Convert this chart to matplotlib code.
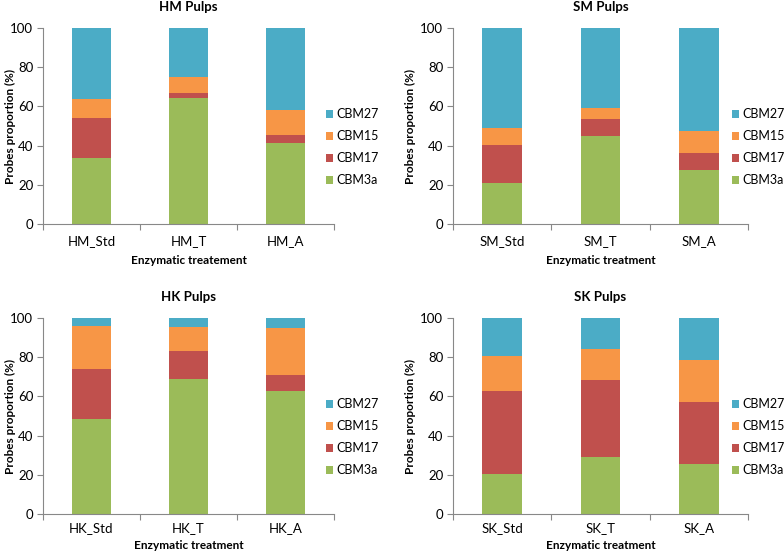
import matplotlib
matplotlib.use("Agg")
import matplotlib.pyplot as plt
import numpy as np

plt.rcParams['font.family'] = ['Lato', 'DejaVu Sans']

series = ["CBM3a", "CBM17", "CBM15", "CBM27"]
colors = ["#9BBB59", "#C0504D", "#F79646", "#4BACC6"]

hm_cats = ["HM_Std", "HM_T", "HM_A"]
hm_cbm3a = [33.8, 64.5, 41.5]
hm_cbm17 = [20.1, 2.3, 3.9]
hm_cbm15 = [9.9, 8.2, 12.9]
hm_cbm27 = [36.2, 25.0, 41.7]

sm_cats = ["SM_Std", "SM_T", "SM_A"]
sm_cbm3a = [21.1, 44.7, 27.7]
sm_cbm17 = [19.2, 8.9, 8.4]
sm_cbm15 = [8.8, 5.6, 11.2]
sm_cbm27 = [50.9, 40.8, 52.7]

hk_cats = ["HK_Std", "HK_T", "HK_A"]
hk_cbm3a = [48.6, 68.9, 62.6]
hk_cbm17 = [25.2, 14.1, 8.1]
hk_cbm15 = [21.9, 12.4, 24.0]
hk_cbm27 = [4.3, 4.6, 5.3]

sk_cats = ["SK_Std", "SK_T", "SK_A"]
sk_cbm3a = [20.6, 29.3, 25.3]
sk_cbm17 = [42.0, 39.1, 32.0]
sk_cbm15 = [18.0, 15.8, 21.3]
sk_cbm27 = [19.4, 15.8, 21.4]

panels = [
    ("HM Pulps", "Enzymatic treatement", hm_cats, [hm_cbm3a, hm_cbm17, hm_cbm15, hm_cbm27]),
    ("SM Pulps", "Enzymatic treatment", sm_cats, [sm_cbm3a, sm_cbm17, sm_cbm15, sm_cbm27]),
    ("HK Pulps", "Enzymatic treatment", hk_cats, [hk_cbm3a, hk_cbm17, hk_cbm15, hk_cbm27]),
    ("SK Pulps", "Enzymatic treatment", sk_cats, [sk_cbm3a, sk_cbm17, sk_cbm15, sk_cbm27]),
]

W, H = 784, 555
fig = plt.figure(figsize=(W / 100, H / 100), dpi=100)

# axes boxes in pixels: left, right, top(y100), bottom(y0), ylabel right edge,
# tick pad, xlabel pad, legend square left
boxes = [(43, 334, 28, 224, 16, 8, 6, 326), (453, 748, 28, 224, 416, 8, 6, 732),
         (43, 334, 318, 514, 16, 6, 4, 326), (453, 748, 318, 514, 416, 6, 4, 732)]

for (title, xlabel, cats, vals), (l, r, t, b, yl, tp, xp, lg) in zip(panels, boxes):
    ax = fig.add_axes([l / W, (H - b) / H, (r - l) / W, (b - t) / H])
    x = np.arange(len(cats))
    bottom = np.zeros(len(cats))
    handles = []
    for name, v, c in zip(series, vals, colors):
        h = ax.bar(x, v, 0.4, bottom=bottom, color=c, label=name, linewidth=0)
        handles.append(h)
        bottom = bottom + np.array(v)
    ax.set_xlim(-0.5, len(cats) - 0.5)
    ax.set_ylim(0, 100)
    ax.set_yticks(np.arange(0, 101, 20))
    ax.set_xticks(np.arange(-0.5, len(cats), 1.0))
    ax.set_xticklabels([])
    ax.set_xticks(x, minor=True)
    ax.set_xticklabels(cats, minor=True)
    ax.tick_params(axis='x', which='minor', length=0, pad=tp, labelsize=9.5)
    ax.tick_params(axis='x', which='major', length=4, direction='out', color='#888888')
    ax.tick_params(axis='y', length=4, direction='out', color='#888888', labelsize=9.5, pad=3)
    for s in ['top', 'right']:
        ax.spines[s].set_visible(False)
    for s in ['left', 'bottom']:
        ax.spines[s].set_color('#888888')
        ax.spines[s].set_linewidth(0.8)
    ax.set_title(title, fontsize=9.5, fontweight='bold', pad=12)
    ax.set_xlabel(xlabel, fontsize=8.5, fontweight='bold', labelpad=xp)
    ax.set_ylabel("Probes proportion (%)", fontsize=8.5, fontweight='bold')
    ax.yaxis.set_label_coords((yl - l) / (r - l), 0.5)
    ax.legend(handles[::-1], series[::-1], loc='center left',
              bbox_to_anchor=((lg - l) / (r - l), 0.393),
              frameon=False, fontsize=9, handlelength=0.55, handleheight=0.6,
              handletextpad=0.3, labelspacing=0.8, borderaxespad=0, borderpad=0)

fig.savefig("out.png", dpi=100)
